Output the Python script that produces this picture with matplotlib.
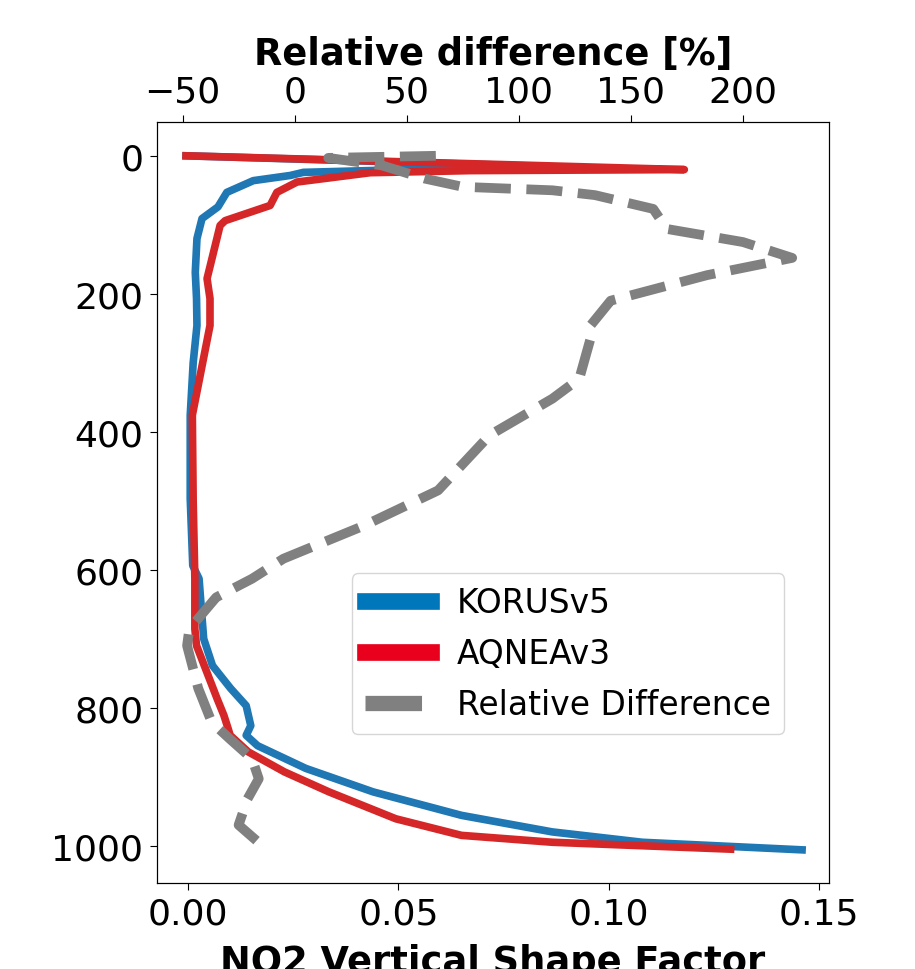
import matplotlib
matplotlib.use("Agg")
import matplotlib.pyplot as plt
from matplotlib.lines import Line2D

# KORUSv5 profile (shape factor vs pressure)
korus_pressure = [0, 15.5, 17.5, 24, 28.5, 36, 53, 74, 91, 120, 169, 207, 246, 300, 376,
                  497, 594, 613, 661, 700, 739, 772, 797, 826, 840, 855, 888, 922,
                  956, 980, 995, 1006]
korus_shape = [-0.0005, 0.086, 0.067, 0.0274, 0.0243, 0.0155, 0.0092, 0.0071, 0.0033,
               0.0021, 0.0017, 0.0020, 0.0021, 0.0012, 0.0005, 0.0005, 0.0011,
               0.0026, 0.0032, 0.0037, 0.0058, 0.0101, 0.0138, 0.0149, 0.0138,
               0.0165, 0.028, 0.044, 0.065, 0.0866, 0.108, 0.146]

# AQNEAv3 profile
aqnea_pressure = [0, 20, 21.5, 24.5, 38, 53, 72, 94, 101, 178, 207, 246, 376, 500,
                  613, 686, 710, 787, 811, 830, 840, 864, 893, 922, 961, 985, 995,
                  1005]
aqnea_shape = [-0.0005, 0.118, 0.067, 0.0433, 0.0259, 0.0211, 0.0195, 0.0088,
               0.0076, 0.0045, 0.0052, 0.0052, 0.0010, 0.0012, 0.0016, 0.0016,
               0.0020, 0.0069, 0.0085, 0.0095, 0.0100, 0.0143, 0.0229, 0.0335,
               0.0494, 0.065, 0.0866, 0.129]

# Relative difference [%]
rel_pressure = [0, 3, 14, 33, 45, 50, 57, 77, 106, 125, 148, 173, 210, 246, 265,
                323, 352, 405, 485, 536, 584, 613, 640, 686, 710, 772, 821, 845,
                874, 903, 932, 970, 1004]
rel_diff = [63, 15, 39, 58, 75, 115, 134, 160, 166, 200, 222, 184, 141, 132, 132,
            127, 115, 87, 64, 31, -5, -19, -35, -47, -48, -43, -37, -29, -19, -16,
            -21, -25, -13]

legend_labels = ["KORUSv5", "AQNEAv3", "Relative Difference"]

fig = plt.figure(figsize=(9.15, 9.7), dpi=100)
ax = fig.add_axes([0.1716, 0.0887, 0.7344, 0.7845])

ax.plot(korus_shape, korus_pressure, color="#1f77b4", lw=5.5)
ax.plot(aqnea_shape, aqnea_pressure, color="#d62728", lw=5.5)
ax.set_xlim(-0.0074, 0.1524)
ax.set_ylim(1054, -49)
ax.set_xticks([0.0, 0.05, 0.10, 0.15])
ax.set_yticks([0, 200, 400, 600, 800, 1000])
ax.tick_params(labelsize=26, length=5, pad=5)
ax.set_xlabel("NO2 Vertical Shape Factor", fontsize=26.5, fontweight="bold",
              labelpad=8.5)

ax2 = ax.twiny()
ax2.plot(rel_diff, rel_pressure, color="gray", lw=7, linestyle="--")
ax2.set_xlim(-61.4, 238.4)
ax2.set_xticks([-50, 0, 50, 100, 150, 200])
ax2.tick_params(labelsize=26, length=5, pad=5)
ax2.set_xlabel("Relative difference [%]", fontsize=26.5, fontweight="bold",
               labelpad=7.6)
ax2.set_ylim(1054, -49)

handles = [
    Line2D([], [], color="#0077BB", lw=12),
    Line2D([], [], color="#E8001C", lw=12),
    Line2D([], [], color="gray", lw=11, linestyle="--"),
]
ax2.legend(handles, legend_labels, loc="upper left", bbox_to_anchor=(0.290, 0.4074),
           borderaxespad=0, fontsize=23.7, labelspacing=0.55)

fig.savefig("out.png", dpi=100)
